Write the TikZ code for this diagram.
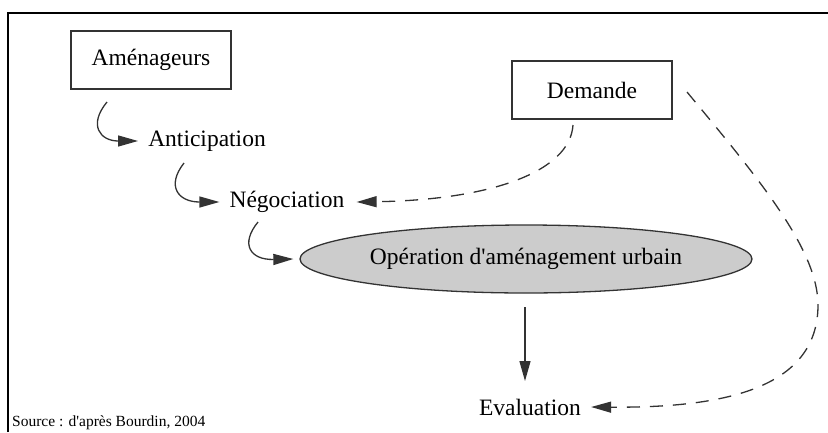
\documentclass[tikz,border=0pt]{standalone}
\usepackage{fontspec}
\setmainfont{Liberation Serif}
\usetikzlibrary{arrows.meta,shapes.geometric}
\definecolor{linegray}{HTML}{333333}
\definecolor{fillgray}{HTML}{CCCCCC}
\tikzset{
  boxnode/.style={draw=linegray, line width=1.3pt, minimum width=160pt, minimum height=58pt, inner sep=0pt, font=\fontsize{23.5}{28}\selectfont},
  txtnode/.style={inner sep=0pt, font=\fontsize{23.5}{28}\selectfont},
  ellnode/.style={ellipse, draw=linegray, line width=1.3pt, fill=fillgray, minimum width=452pt, minimum height=68pt, inner sep=0pt, font=\fontsize{23.5}{28}\selectfont},
  solidarrow/.style={draw=linegray, line width=1.3pt, -{Triangle[length=20pt,width=11pt]}},
  dasharrow/.style={draw=linegray, line width=1.3pt, dash pattern=on 13pt off 10pt, -{Triangle[length=20pt,width=11pt]}},
}
\begin{document}
\begin{tikzpicture}[x=1pt,y=-1pt]
\useasboundingbox (0,0) rectangle (828,432);
\draw[line width=1.5pt] (8,432) -- (8,13) -- (828,13);

\node[boxnode] (amen) at (151,60) {Aménageurs};
\node[boxnode] (dem) at (592,90) {Demande};
\node[txtnode] (antic) at (207,141) {Anticipation};
\node[txtnode] (nego) at (287,202) {Négociation};
\node[ellnode] (oper) at (526,259) {Opération d\textquotesingle aménagement urbain};
\node[txtnode] (eval) at (530,407) {Evaluation};
\node[anchor=west, inner sep=0pt, font=\fontsize{15.5}{18}\selectfont] (src) at (12,423) {Source : d\textquotesingle après Bourdin, 2004};

\coordinate (s1) at (107,102);
\coordinate (s2) at (184,163);
\coordinate (s3) at (258,222);
\coordinate (d1) at (573,125);
\coordinate (d2) at (687,92);
\coordinate (v1) at (525,307);

\draw[solidarrow] (s1) .. controls (88,125) and (100,141) .. ([xshift=-10pt]antic.west);
\draw[solidarrow] (s2) .. controls (166,186) and (178,202) .. ([xshift=-10pt]nego.west);
\draw[solidarrow] (s3) .. controls (240,244) and (250,260) .. ([xshift=-6pt]oper.west);
\draw[dasharrow] (d1) .. controls (570,172) and (490,200) .. ([xshift=12pt]nego.east);
\draw[dasharrow] (d2) .. controls (760,180) and (818,250) .. (818,305) .. controls (818,390) and (720,408) .. ([xshift=10pt]eval.east);
\draw[solidarrow] (v1) -- (v1 |- 0,381);
\end{tikzpicture}
\end{document}
